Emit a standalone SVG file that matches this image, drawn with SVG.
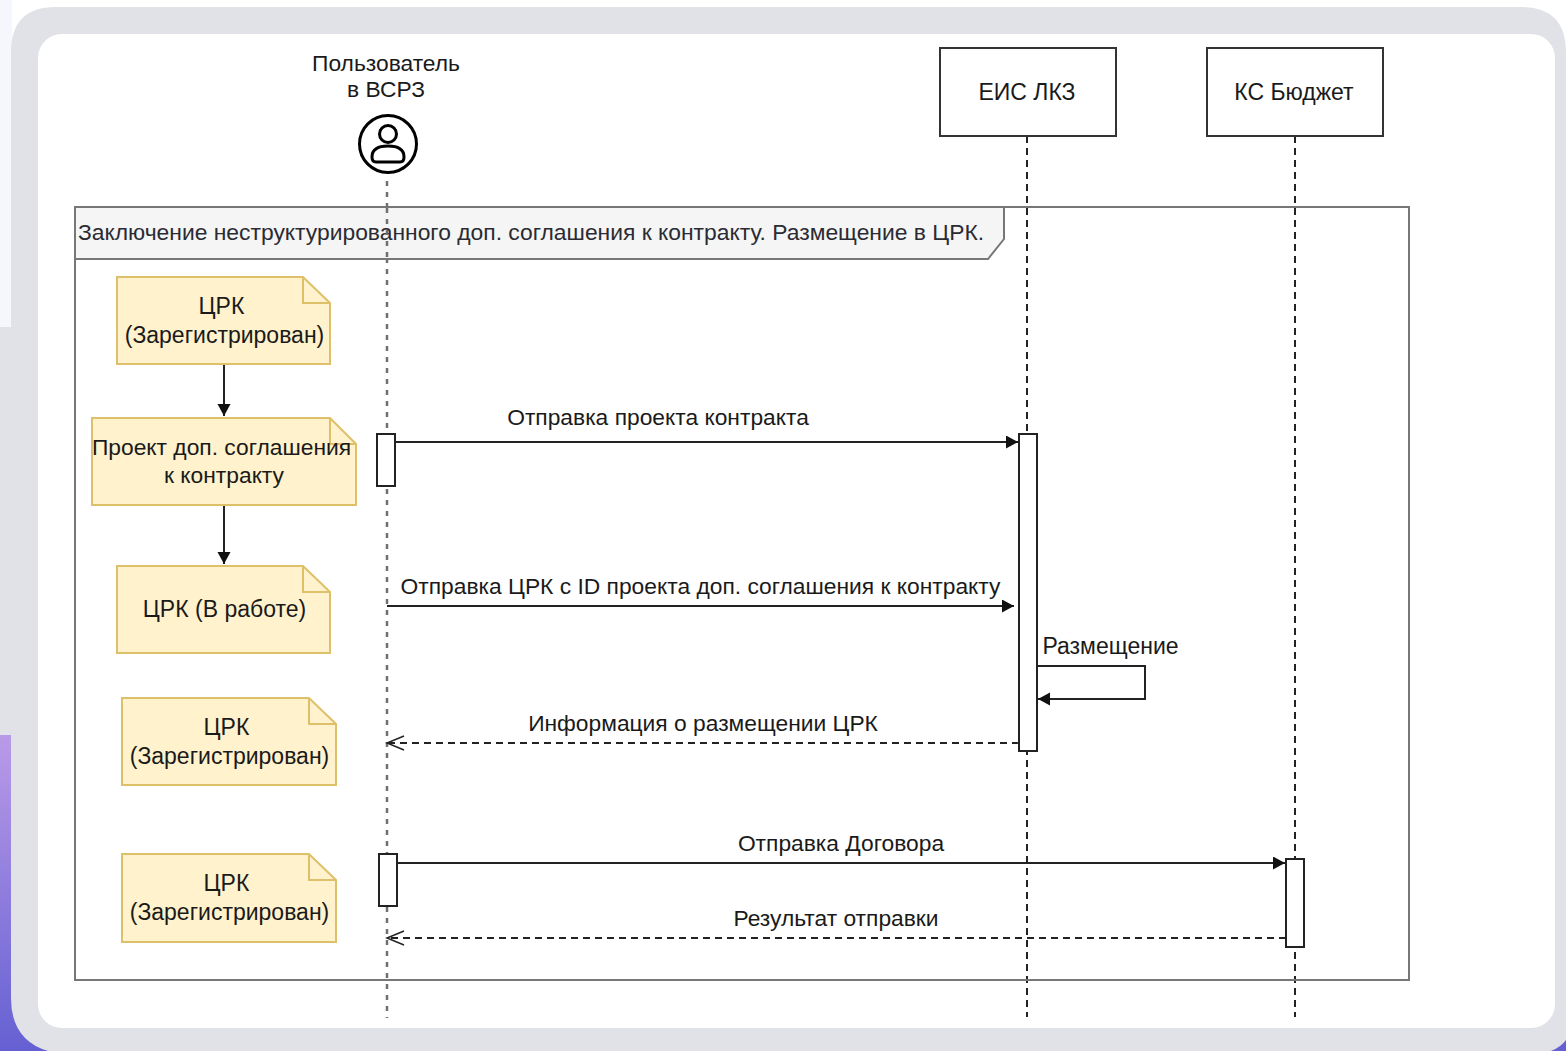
<svg xmlns="http://www.w3.org/2000/svg" width="1566" height="1051" viewBox="0 0 1566 1051">
<defs>
<linearGradient id="pg" x1="0" y1="0" x2="0" y2="1"><stop offset="0" stop-color="#b99ae8"/><stop offset="1" stop-color="#6560d2"/></linearGradient>
<marker id="solid" markerUnits="userSpaceOnUse" markerWidth="14" markerHeight="14" refX="12" refY="6.5" orient="auto"><path d="M0 0L12 6.5L0 13Z" fill="#111"/></marker>
<marker id="open" markerUnits="userSpaceOnUse" markerWidth="20" markerHeight="18" refX="18" refY="8" orient="auto"><path d="M1 1L18 8L1 15" fill="none" stroke="#222" stroke-width="1.5"/></marker>
</defs>
<style>
text{font-family:"Liberation Sans",Arial,sans-serif;font-size:23px;fill:#1a1a1a;text-anchor:middle}
.t{font-size:22.85px;fill:#2b2b33}
.m{font-size:22.8px}
.note{fill:#fff2cc;stroke:#dfc06a;stroke-width:2}
.fold{fill:none;stroke:#dfc06a;stroke-width:2}
.life{fill:none;stroke:#222;stroke-width:2;stroke-dasharray:7 5}
.ulife{fill:none;stroke:#707070;stroke-width:2.5;stroke-dasharray:5 6}
.act{fill:#fff;stroke:#222;stroke-width:2}
.msg{fill:none;stroke:#222;stroke-width:2}
.ret{fill:none;stroke:#222;stroke-width:1.8;stroke-dasharray:7 5}
.box{fill:#fff;stroke:#333;stroke-width:2}
</style>
<rect width="1566" height="1051" fill="#fff"/>
<rect x="0" y="0" width="12" height="327" fill="#f6f7fc"/>
<rect x="0" y="327" width="12" height="408" fill="#e1e2e7"/>
<rect x="0" y="735" width="60" height="316" fill="url(#pg)"/>
<path d="M1545 1051L1566 1051L1566 1030Z" fill="#6560d2"/>
<path d="M56 7H1521Q1566 7 1566 52V1040Q1561 1047 1551 1051H48Q11 1040 11 998V52Q11 7 56 7Z" fill="#e1e2e7"/>
<rect x="38" y="34" width="1517" height="994" rx="24" fill="#fff"/>

<g id="lifelines">
<path class="ulife" d="M387 181V1018"/>
<path class="life" d="M1027 136V1017"/>
<path class="life" d="M1295 136V1017"/>
</g>

<g id="frame">
<rect x="75" y="207" width="1334" height="773" fill="none" stroke="#777" stroke-width="2"/>
<path d="M75 207H1004V239L988 259H75Z" fill="#f5f5f5" stroke="#777" stroke-width="2"/>
<text x="78" y="240" style="text-anchor:start" class="t">Заключение неструктурированного доп. соглашения к контракту. Размещение в ЦРК.</text>
<path class="ulife" d="M387 208V259"/>
</g>

<g id="actor-user">
<text x="386" y="71" class="m">Пользователь</text>
<text x="386" y="97" class="m">в ВСРЗ</text>
<circle cx="388" cy="144" r="28.500" fill="#fff" stroke="#000" stroke-width="3"/>
<circle cx="388" cy="134" r="8.500" fill="none" stroke="#000" stroke-width="3"/>
<path d="M376 162Q372 162 372 157Q372 146 388 146Q404 146 404 157Q404 162 400 162Z" fill="none" stroke="#000" stroke-width="3"/>
</g>

<g id="actor-eis"><rect class="box" x="940" y="48" width="176" height="88"/><text x="1027" y="99.500">ЕИС ЛКЗ</text></g>
<g id="actor-ks"><rect class="box" x="1207" y="48" width="176" height="88"/><text x="1294" y="99.500">КС Бюджет</text></g>

<g id="note1">
<path class="note" d="M117 277H303L330 303V364H117Z"/><path class="fold" d="M303 277V303H330"/>
<text x="221.500" y="314">ЦРК</text><text x="224.500" y="342.500">(Зарегистрирован)</text>
</g>
<g id="note2">
<path class="note" d="M92 418H330L356 444V505H92Z"/><path class="fold" d="M330 418V444H356"/>
<text x="221.500" y="455" class="m">Проект доп. соглашения</text><text x="224" y="483" class="m">к контракту</text>
</g>
<g id="note3">
<path class="note" d="M117 566H303L330 592V653H117Z"/><path class="fold" d="M303 566V592H330"/>
<text x="224.500" y="616.500">ЦРК (В работе)</text>
</g>
<g id="note4">
<path class="note" d="M122 698H309L336 724V785H122Z"/><path class="fold" d="M309 698V724H336"/>
<text x="226.500" y="734.500">ЦРК</text><text x="229.500" y="763.500">(Зарегистрирован)</text>
</g>
<g id="note5">
<path class="note" d="M122 854H309L336 880V942H122Z"/><path class="fold" d="M309 854V880H336"/>
<text x="226.500" y="891">ЦРК</text><text x="229.500" y="920">(Зарегистрирован)</text>
</g>

<g id="activations">
<rect class="act" x="377" y="434" width="18" height="52"/>
<rect class="act" x="1019" y="434" width="18" height="317"/>
<rect class="act" x="379" y="854" width="18" height="52"/>
<rect class="act" x="1286" y="859" width="18" height="88"/>
</g>

<g id="connectors">
<path class="msg" d="M224 365V416" marker-end="url(#solid)"/>
<path class="msg" d="M224 506V564" marker-end="url(#solid)"/>
<path class="msg" d="M395 442H1018" marker-end="url(#solid)"/>
<path class="msg" d="M387 606H1014" marker-end="url(#solid)"/>
<path class="msg" d="M1037 666H1145V699H1038" marker-end="url(#solid)"/>
<path class="ret" d="M1019 743H387" marker-end="url(#open)"/>
<path class="msg" d="M397 863H1285" marker-end="url(#solid)"/>
<path class="ret" d="M1286 938H387" marker-end="url(#open)"/>
</g>

<g id="labels">
<text x="658" y="425" class="m">Отправка проекта контракта</text>
<text x="700.500" y="594" class="m">Отправка ЦРК с ID проекта доп. соглашения к контракту</text>
<text x="1110.500" y="654">Размещение</text>
<text x="703" y="731" class="m">Информация о размещении ЦРК</text>
<text x="841" y="851" class="m">Отправка Договора</text>
<text x="836" y="926" class="m">Результат отправки</text>
</g>
</svg>
